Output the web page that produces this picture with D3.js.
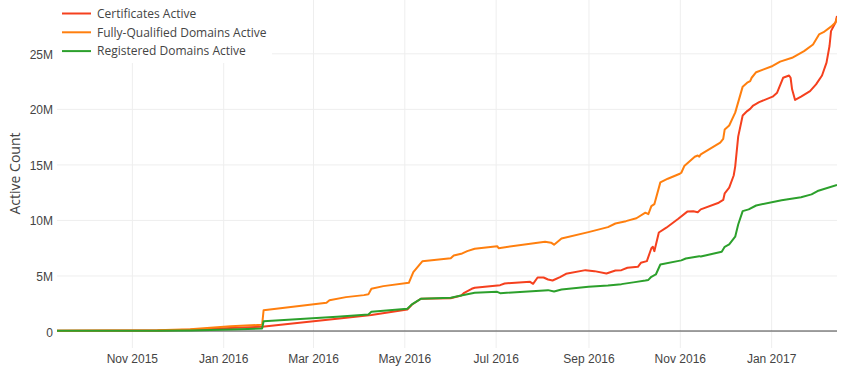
<!DOCTYPE html>
<html lang="en">
<head>
    <meta charset="UTF-8">
    <title>Let's Encrypt active counts</title>
    <script src="https://d3js.org/d3.v7.min.js"></script>
    <style>
        body { margin: 0; background: #fff; }
        svg { font-family: "Open Sans", sans-serif; display: block; }
        .grid line { stroke: #eee; }
        .grid text { fill: #444; font-size: 12px; }
    </style>
</head>
<body>
    <svg width="846" height="376"></svg>

    <script>
        // --- data (values in millions) ---
        const seriesNames = ["Certificates Active", "Fully-Qualified Domains Active", "Registered Domains Active"];
        const seriesColors = ["#f5401e", "#ff7f0e", "#2ca02c"];

        const certDates = ["2015-09-12","2015-11-18","2015-12-10","2016-01-06","2016-01-27","2016-03-17","2016-04-09",
            "2016-05-03","2016-05-06","2016-05-12","2016-06-01","2016-06-08","2016-06-10","2016-06-15","2016-06-17",
            "2016-07-04","2016-07-07","2016-07-24","2016-07-26","2016-07-29","2016-08-02","2016-08-05","2016-08-08",
            "2016-08-13","2016-08-17","2016-08-30","2016-09-05","2016-09-13","2016-09-19","2016-09-23","2016-09-27",
            "2016-10-04","2016-10-06","2016-10-10","2016-10-13","2016-10-14","2016-10-15","2016-10-18","2016-10-23",
            "2016-10-31","2016-11-06","2016-11-10","2016-11-13","2016-11-15","2016-11-27","2016-11-30","2016-12-01",
            "2016-12-04","2016-12-07","2016-12-08","2016-12-10","2016-12-13","2016-12-16","2016-12-18","2016-12-20",
            "2016-12-24","2017-01-02","2017-01-05","2017-01-09","2017-01-13","2017-01-14","2017-01-15","2017-01-17",
            "2017-01-21","2017-01-27","2017-01-31","2017-02-04","2017-02-07","2017-02-09","2017-02-10","2017-02-13",
            "2017-02-14"];
        const certValues = [0.02,0.04,0.11,0.27,0.38,1.1,1.45,
            1.94,2.36,2.9,2.95,3.2,3.44,3.8,3.89,
            4.13,4.28,4.43,4.25,4.82,4.82,4.64,4.55,
            4.85,5.15,5.48,5.39,5.18,5.45,5.48,5.69,
            5.78,6.14,6.29,7.45,7.58,7.19,8.87,9.3,
            10.1,10.75,10.79,10.7,10.95,11.55,11.8,12.4,
            12.9,14.0,14.8,17.5,19.4,19.8,20.0,20.3,
            20.6,21.1,21.46,22.8,23.0,22.8,21.76,20.8,
            21.1,21.6,22.2,23.0,24.16,25.66,27.0,27.77,
            28.36];

        const fqdnDates = ["2015-09-12","2015-11-18","2015-12-10","2016-01-06","2016-01-27","2016-01-28","2016-03-10",
            "2016-03-12","2016-03-23","2016-04-04","2016-04-07","2016-04-09","2016-04-17","2016-05-04","2016-05-07",
            "2016-05-13","2016-06-01","2016-06-03","2016-06-08","2016-06-12","2016-06-17","2016-07-02","2016-07-03",
            "2016-08-03","2016-08-07","2016-08-09","2016-08-14","2016-09-01","2016-09-14","2016-09-19","2016-09-26",
            "2016-10-03","2016-10-09","2016-10-11","2016-10-13","2016-10-15","2016-10-19","2016-10-24","2016-11-01",
            "2016-11-02","2016-11-04","2016-11-11","2016-11-13","2016-11-14","2016-11-15","2016-11-28","2016-11-30",
            "2016-12-01","2016-12-04","2016-12-08","2016-12-13","2016-12-16","2016-12-18","2016-12-19","2016-12-22",
            "2017-01-02","2017-01-07","2017-01-15","2017-01-23","2017-01-29","2017-02-02","2017-02-05","2017-02-10",
            "2017-02-13","2017-02-14"];
        const fqdnValues = [0.03,0.06,0.15,0.43,0.56,1.87,2.54,
            2.77,3.05,3.23,3.3,3.8,4.04,4.34,5.3,
            6.27,6.55,6.8,6.95,7.19,7.4,7.64,7.46,
            8.04,7.95,7.77,8.33,8.9,9.35,9.68,9.89,
            10.15,10.65,10.52,11.24,11.42,13.38,13.71,14.16,
            14.25,14.85,15.69,15.8,15.7,15.9,16.95,17.3,
            18.15,18.5,19.66,22.0,22.36,22.5,22.8,23.3,
            23.86,24.25,24.6,25.2,25.8,26.7,26.9,27.4,
            27.77,28.2];

        const regDates = ["2015-09-12","2015-11-18","2015-12-10","2016-01-06","2016-01-27","2016-01-28","2016-03-17",
            "2016-04-07","2016-04-09","2016-05-03","2016-05-06","2016-05-12","2016-06-01","2016-06-08","2016-06-17",
            "2016-07-02","2016-07-04","2016-08-05","2016-08-09","2016-08-14","2016-09-01","2016-09-14","2016-09-23",
            "2016-10-02","2016-10-09","2016-10-11","2016-10-13","2016-10-16","2016-10-19","2016-11-02","2016-11-05",
            "2016-11-14","2016-11-15","2016-11-18","2016-11-29","2016-12-01","2016-12-04","2016-12-08","2016-12-10",
            "2016-12-13","2016-12-17","2016-12-22","2017-01-08","2017-01-21","2017-01-28","2017-02-01","2017-02-14"];
        const regValues = [0.02,0.03,0.05,0.14,0.22,0.88,1.28,
            1.49,1.73,2.0,2.39,2.9,2.99,3.2,3.44,
            3.53,3.41,3.68,3.56,3.74,3.98,4.1,4.22,
            4.4,4.55,4.6,4.88,5.09,5.99,6.36,6.53,
            6.74,6.7,6.8,7.13,7.58,7.79,8.49,9.59,
            10.79,10.95,11.3,11.78,12.05,12.3,12.6,13.14];

        const yTicks = [0, 5, 10, 15, 20, 25];

        const parse = d3.timeParse("%Y-%m-%d");
        const toPoints = (dates, values) => dates.map((d, i) => ({ date: parse(d), value: values[i] * 1e6 }));
        const dataset = [
            toPoints(certDates, certValues),
            toPoints(fqdnDates, fqdnValues),
            toPoints(regDates, regValues)
        ];

        const plot = { left: 57, right: 837, top: 0, bottom: 348 };

        const svg = d3.select("svg");

        const x = d3.scaleTime()
            .domain([parse("2015-09-12"), parse("2017-02-14")])
            .range([plot.left, plot.right]);

        const y = d3.scaleLinear()
            .domain([-1.53e6, 29.8e6])
            .range([plot.bottom, plot.top]);

        // gridlines + tick labels
        svg.append("g")
            .attr("class", "grid")
            .attr("transform", `translate(0,${plot.bottom})`)
            .call(d3.axisBottom(x)
                .ticks(d3.timeMonth.every(2))
                .tickFormat(d3.timeFormat("%b %Y"))
                .tickSize(-(plot.bottom - plot.top))
                .tickPadding(6))
            .call(g => g.select(".domain").remove());

        svg.append("g")
            .attr("class", "grid")
            .attr("transform", `translate(${plot.left},0)`)
            .call(d3.axisLeft(y)
                .tickValues(yTicks.map(v => v * 1e6))
                .tickFormat(v => v === 0 ? "0" : (v / 1e6) + "M")
                .tickSize(-(plot.right - plot.left))
                .tickPadding(4))
            .call(g => g.select(".domain").remove())
            .call(g => g.selectAll("text").attr("dy", "0.42em"));

        // zero line
        svg.append("line")
            .attr("x1", plot.left).attr("x2", plot.right)
            .attr("y1", y(0)).attr("y2", y(0))
            .attr("stroke", "#444").attr("stroke-width", 1);

        svg.append("clipPath").attr("id", "clip")
            .append("rect")
            .attr("x", plot.left).attr("y", plot.top)
            .attr("width", plot.right - plot.left).attr("height", plot.bottom - plot.top);

        const line = d3.line()
            .x(d => x(d.date))
            .y(d => y(d.value));

        // traces in legend order, last one on top
        svg.append("g").attr("clip-path", "url(#clip)")
            .selectAll("path")
            .data(dataset)
            .enter()
            .append("path")
            .attr("d", d => line(d))
            .attr("fill", "none")
            .attr("stroke", (d, i) => seriesColors[i])
            .attr("stroke-width", 2)
            .attr("stroke-linejoin", "round");

        // y axis title
        svg.append("text")
            .attr("transform", `translate(14,${(plot.top + y(0)) / 2 + 8}) rotate(-90)`)
            .attr("text-anchor", "middle")
            .attr("dominant-baseline", "central")
            .attr("fill", "#444")
            .style("font-size", "14px")
            .text("Active Count");

        // legend
        const legend = svg.append("g");
        legend.append("rect")
            .attr("x", plot.left).attr("y", 0)
            .attr("width", 215).attr("height", 63)
            .attr("fill", "#fff");

        const item = legend.selectAll(".item")
            .data(seriesNames)
            .enter()
            .append("g")
            .attr("class", "item")
            .attr("transform", (d, i) => `translate(0,${13.5 + i * 18.8})`);

        item.append("line")
            .attr("x1", 62).attr("x2", 91)
            .attr("stroke", (d, i) => seriesColors[i])
            .attr("stroke-width", 2);

        item.append("text")
            .attr("x", 97)
            .attr("dy", "0.36em")
            .attr("fill", "#444")
            .style("font-size", "12px")
            .text(d => d);
    </script>
</body>
</html>
